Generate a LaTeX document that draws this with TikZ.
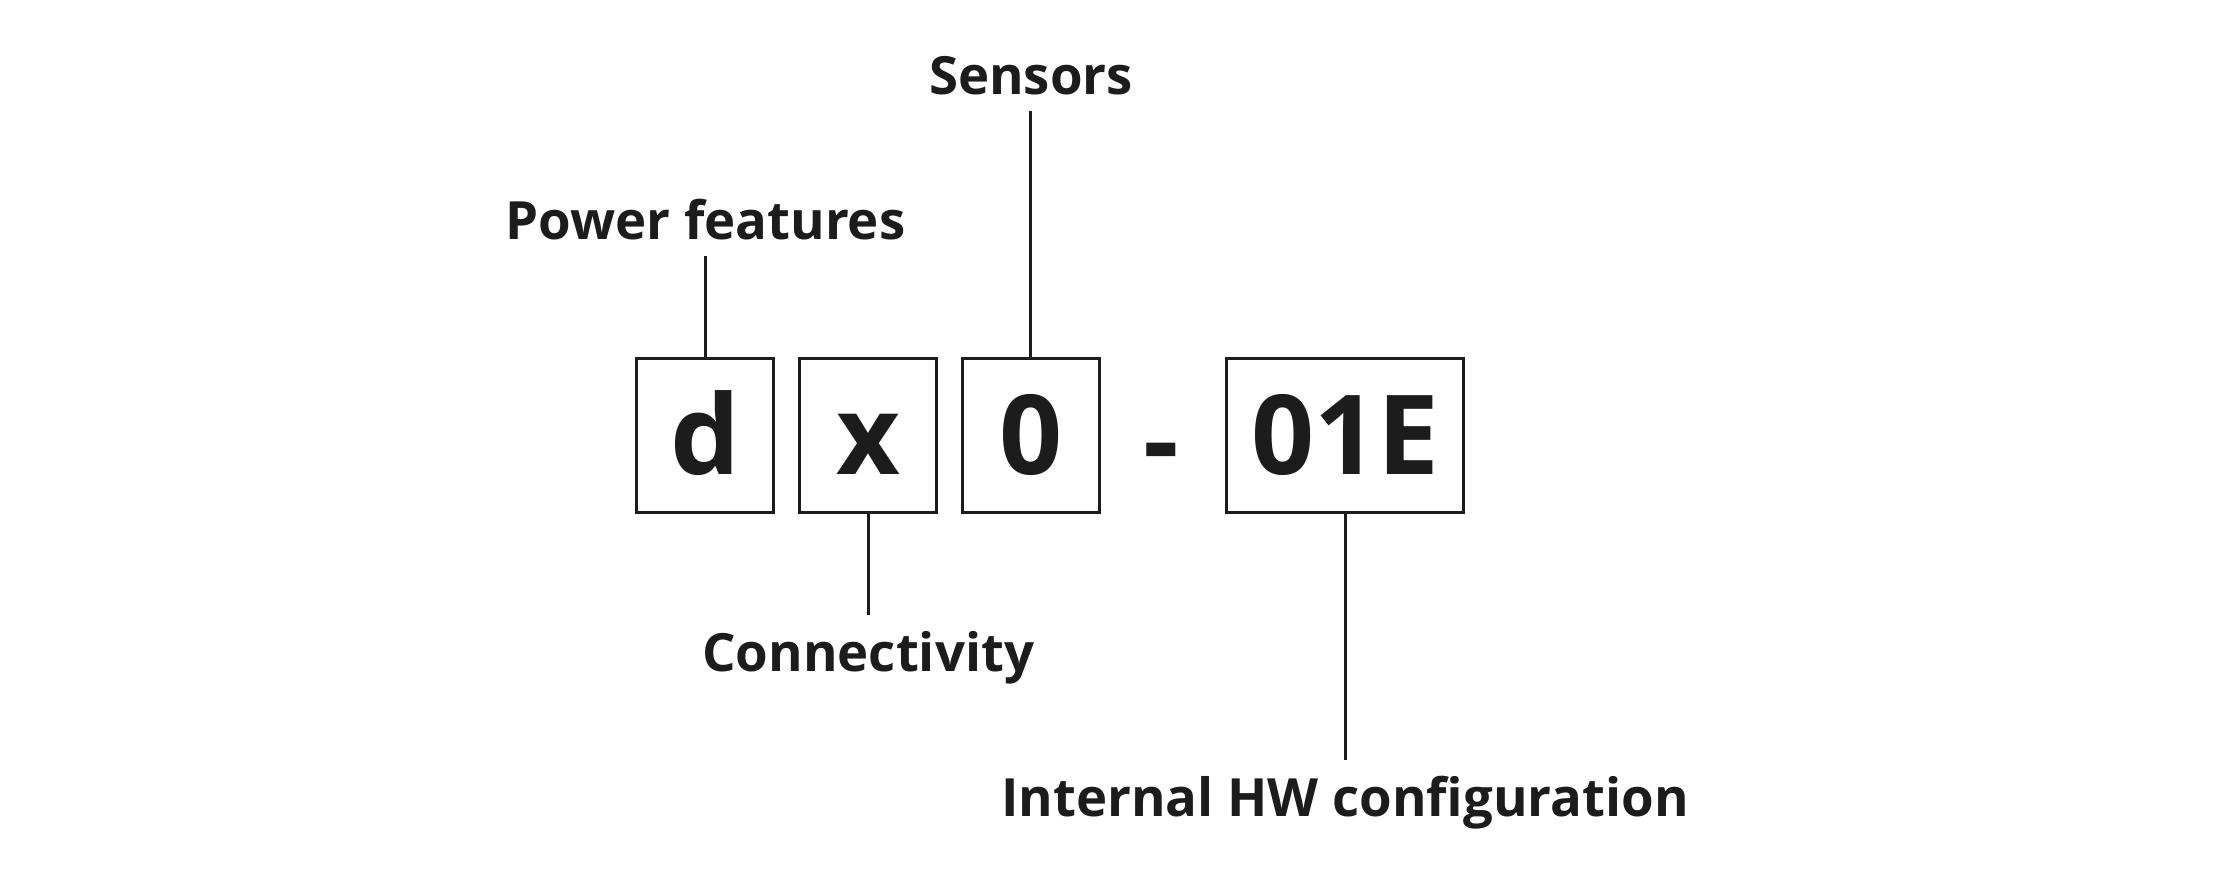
\documentclass[tikz,border=0pt]{standalone}
\usepackage{fontspec}
\setmainfont{Open Sans}
\definecolor{ink}{HTML}{1C1C1C}
\tikzset{
  box/.style={draw=ink, line width=0.6pt, minimum width=0.96cm, minimum height=1.08cm,
    text height=0.55cm, text depth=0pt, font=\bfseries\fontsize{22}{26}\selectfont, text=ink},
  lbl/.style={font=\bfseries\fontsize{10.5}{13}\selectfont, text=ink, inner xsep=0pt, inner ysep=3pt},
  tick/.style={draw=ink, line width=0.6pt}
}
\begin{document}
\begin{tikzpicture}[x=0.01cm,y=-0.01cm]
    \useasboundingbox (0,0) rectangle (1568,616);

    % Code boxes
    \node[box] (dbox) at (494,305) {d};
    \node[box] (xbox) at (608,305) {x};
    \node[box] (obox) at (722,305) {0};
    \node[box, text=ink, draw=none] (dash) at (813,308) {-};
    \node[box, minimum width=1.66cm] (hwbox) at (942,305) {01E};

    % Labels
    \node[lbl, anchor=base] (sens) at (722,66) {Sensors};
    \node[lbl, anchor=base] (pwr) at (494,168) {Power features};
    \node[lbl, anchor=base] (conn) at (608,470) {Connectivity};
    \node[lbl, anchor=base] (hw) at (942,572) {Internal HW configuration};

    % Leaders
    \draw[tick] (obox.north) -- (obox.north |- sens.south);
    \draw[tick] (dbox.north) -- (dbox.north |- pwr.south);
    \draw[tick] (xbox.south) -- (xbox.south |- conn.north);
    \draw[tick] (hwbox.south) -- (hwbox.south |- hw.north);
\end{tikzpicture}
\end{document}
